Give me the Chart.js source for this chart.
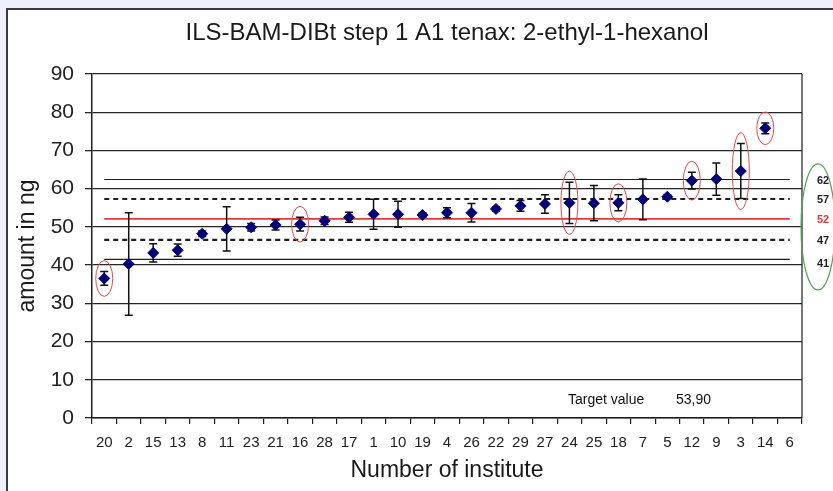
<!DOCTYPE html>
<html lang="en">
<head>
  <meta charset="UTF-8">
  <title>ILS-BAM-DIBt step 1 A1 tenax: 2-ethyl-1-hexanol</title>
  <script src="https://cdn.jsdelivr.net/npm/chart.js"></script>
  <style>
    body { margin: 0; background: #eef0fb; width: 833px; height: 491px; overflow: hidden; position: relative; }
    .moldura { position: absolute; left: 6px; top: 8px; right: 0; bottom: 0; background: #fff;
      border-left: 2px solid #3c3c3c; border-top: 2px solid #3c3c3c; }
    canvas { position: absolute; left: 0; top: 0; }
  </style>
</head>
<body>
  <div class="moldura"></div>
  <canvas id="grafico" width="833" height="491"></canvas>
<script>
  // dados
  const institutos = ['20', '2', '15', '13', '8', '11', '23', '21', '16', '28', '17', '1', '10', '19', '4',
    '26', '22', '29', '27', '24', '25', '18', '7', '5', '12', '9', '3', '14', '6']
  const medias = [36.5, 40.3, 43.2, 43.9, 48.2, 49.5, 49.9, 50.5, 50.7, 51.6, 52.5, 53.3, 53.3, 53.1, 53.7,
    53.7, 54.7, 55.5, 56.0, 56.3, 56.2, 56.3, 57.2, 57.9, 62.1, 62.5, 64.6, 75.8, null]
  const desvios = [1.8, 13.4, 2.4, 1.6, 0.7, 5.8, 1.0, 1.3, 1.8, 1.0, 1.3, 3.9, 3.4, 0.6, 1.3,
    2.4, 0.6, 1.4, 2.4, 5.4, 4.6, 2.1, 5.3, 0.5, 2.2, 4.2, 7.2, 1.4, null]
  const marcados = ['20', '16', '24', '18', '12', '3', '14']

  const limites = [62.4, 57.3, 52.1, 46.6, 41.5]
  const limitesTexto = ['62', '57', '52', '47', '41']
  const limitesTipo = ['solido', 'pontilhado', 'vermelho', 'pontilhado', 'solido']
  const valorAlvo = '53,90'

  const fonte = '"Liberation Sans", Arial, sans-serif'

  // linhas de referencia
  let datasets = [{
    label: 'amount',
    data: medias,
    showLine: false,
    pointStyle: 'rectRot',
    pointRadius: 5.5,
    backgroundColor: '#00007a',
    borderColor: '#00007a',
    borderWidth: 1,
    order: 0
  }]
  for (let i = 0; i < limites.length; i++) {
    const tipo = limitesTipo[i]
    datasets.push({
      label: limitesTexto[i],
      data: institutos.map(() => limites[i]),
      pointRadius: 0,
      borderColor: tipo == 'vermelho' ? '#e0393b' : '#1e1e1e',
      borderWidth: tipo == 'pontilhado' ? 2.2 : (tipo == 'vermelho' ? 1.6 : 1.1),
      borderDash: tipo == 'pontilhado' ? [5, 4] : [],
      order: 1
    })
  }

  const barrasErro = {
    id: 'barrasErro',
    beforeDatasetDraw(chart, args) {
      if (args.index !== 0) return
      const x = chart.scales.x, y = chart.scales.y, ctx = chart.ctx
      ctx.save()
      ctx.strokeStyle = '#111'
      ctx.lineWidth = 1.5
      for (let i = 0; i < medias.length; i++) {
        if (medias[i] == null) continue
        const px = x.getPixelForValue(i)
        const topo = y.getPixelForValue(medias[i] + desvios[i])
        const base = y.getPixelForValue(medias[i] - desvios[i])
        ctx.beginPath()
        ctx.moveTo(px, topo); ctx.lineTo(px, base)
        ctx.moveTo(px - 4, topo); ctx.lineTo(px + 4, topo)
        ctx.moveTo(px - 4, base); ctx.lineTo(px + 4, base)
        ctx.stroke()
      }
      ctx.restore()
    },
    afterDatasetsDraw(chart) {
      const x = chart.scales.x, y = chart.scales.y, ctx = chart.ctx
      const area = chart.chartArea
      ctx.save()
      // elipses vermelhas
      ctx.strokeStyle = '#e8474a'
      ctx.lineWidth = 1
      for (let i = 0; i < institutos.length; i++) {
        if (marcados.indexOf(institutos[i]) === -1) continue
        const px = x.getPixelForValue(i)
        const py = y.getPixelForValue(medias[i])
        const ry = (y.getPixelForValue(medias[i] - desvios[i]) - py) + 11
        ctx.beginPath()
        ctx.ellipse(px, py, 8.5, ry, 0, 0, Math.PI * 2)
        ctx.stroke()
      }
      // borda direita
      ctx.strokeStyle = '#1e1e1e'
      ctx.lineWidth = 1.2
      ctx.beginPath()
      ctx.moveTo(area.right, area.top); ctx.lineTo(area.right, area.bottom)
      ctx.stroke()
      // valor alvo
      ctx.fillStyle = '#111'
      ctx.font = '14px ' + fonte
      ctx.textBaseline = 'middle'
      ctx.textAlign = 'left'
      ctx.fillText('Target value', area.right - 234, area.bottom - 18)
      ctx.fillText(valorAlvo, area.right - 126, area.bottom - 18)
      // rotulos da direita
      ctx.font = 'bold 11px ' + fonte
      for (let i = 0; i < limites.length; i++) {
        ctx.fillStyle = limitesTipo[i] == 'vermelho' ? '#e0393b' : '#222'
        const ajuste = i == limites.length - 1 ? 5 : 1
        ctx.fillText(limitesTexto[i], area.right + 15, y.getPixelForValue(limites[i]) + ajuste)
      }
      // elipse verde
      const yTopo = y.getPixelForValue(66.5), yBase = y.getPixelForValue(33.5)
      ctx.strokeStyle = '#52a552'
      ctx.lineWidth = 1.2
      ctx.beginPath()
      ctx.ellipse(area.right + 16, (yTopo + yBase) / 2, 17, (yBase - yTopo) / 2, 0, 0, Math.PI * 2)
      ctx.stroke()
      ctx.restore()
    }
  }

  new Chart(document.getElementById('grafico'), {
    type: 'line',
    data: { labels: institutos, datasets: datasets },
    plugins: [barrasErro],
    options: {
      responsive: false,
      animation: false,
      layout: { padding: { left: 0, right: 31, top: 0, bottom: 0 } },
      plugins: {
        legend: { display: false },
        tooltip: { enabled: false },
        title: {
          display: true,
          fullSize: false,
          text: 'ILS-BAM-DIBt step 1 A1 tenax: 2-ethyl-1-hexanol',
          color: '#1a1a1a',
          font: { family: fonte, size: 24, weight: 'normal', lineHeight: 1.2 },
          padding: { top: 19, bottom: 26.2 }
        }
      },
      scales: {
        x: {
          offset: true,
          afterFit: function (s) { s.height = 73 },
          grid: { offset: true, drawOnChartArea: false, drawTicks: true, tickLength: 6, color: '#1e1e1e', lineWidth: 1.2 },
          border: { color: '#1e1e1e', width: 1.5 },
          ticks: { autoSkip: false, maxRotation: 0, padding: 10, color: '#222', font: { family: fonte, size: 15 } },
          title: {
            display: true, text: 'Number of institute', color: '#1a1a1a',
            font: { family: fonte, size: 23, lineHeight: 1.2 }, padding: { top: 0, bottom: 7 }
          }
        },
        y: {
          min: 0,
          max: 90,
          afterFit: function (s) { s.width = 92 },
          grid: { color: '#262626', lineWidth: 1.3, tickLength: 7 },
          border: { color: '#1e1e1e', width: 1.5 },
          ticks: { stepSize: 10, padding: 11, color: '#222', font: { family: fonte, size: 21 } },
          title: {
            display: true, text: 'amount in ng', color: '#1a1a1a',
            font: { family: fonte, size: 23, lineHeight: 1.2 }, padding: { top: 14, bottom: 0 }
          }
        }
      }
    }
  })
</script>
</body>
</html>
